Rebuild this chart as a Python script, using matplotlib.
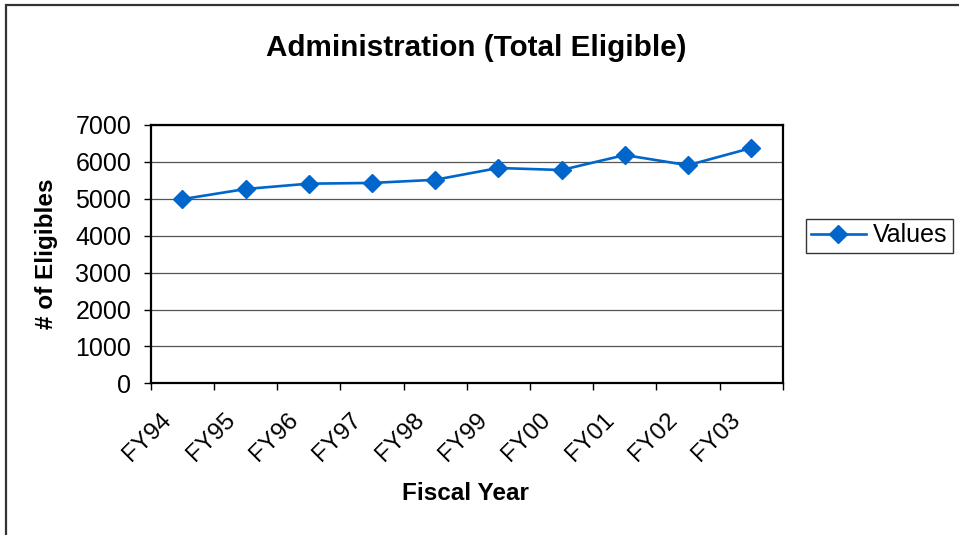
import numpy as np
import matplotlib
matplotlib.use('Agg')
import matplotlib.pyplot as plt
import matplotlib.patches as patches
import matplotlib.transforms as mtransforms

## chart data
years = ['FY94', 'FY95', 'FY96', 'FY97', 'FY98', 'FY99', 'FY00', 'FY01', 'FY02', 'FY03']
values = [4990, 5265, 5410, 5430, 5515, 5835, 5780, 6185, 5910, 6375]
yticks = [0, 1000, 2000, 3000, 4000, 5000, 6000, 7000]

plt.rcParams['font.family'] = ['Liberation Sans', 'DejaVu Sans']

W, H = 959, 535
fig = plt.figure(figsize=(W/100, H/100), dpi=100)
ax = fig.add_axes([150.7/W, 1 - 383.3/H, (782.7 - 150.7)/W, (383.3 - 125)/H])

blue = '#0066CC'
x = np.arange(len(years))
ax.plot(x, values, color=blue, lw=1.9, marker='D', ms=9, label='Values')

ax.set_xlim(-0.5, len(years) - 0.5)
ax.set_ylim(0, 7000)
ax.set_yticks(yticks)
ax.set_yticklabels([str(v) for v in yticks], fontsize=18)
ax.grid(axis='y', color='#555555', lw=0.9)
ax.set_axisbelow(True)

# tick marks at category boundaries, labels at centres
ax.set_xticks(x)
ax.set_xticks(np.arange(len(years) + 1) - 0.5, minor=True)
ax.tick_params(axis='x', which='major', length=0, pad=24)
ax.tick_params(axis='x', which='minor', length=5, width=1, direction='out')
ax.tick_params(axis='y', length=5, width=1, direction='out', pad=9)
ax.set_xticklabels(years, fontsize=17.5, rotation=45, ha='right', va='center',
                   rotation_mode='anchor')
shift = mtransforms.ScaledTranslation(-14/100, 0, fig.dpi_scale_trans)
for lab in ax.get_xticklabels():
    lab.set_transform(lab.get_transform() + shift)

for s in ax.spines.values():
    s.set_color('black')
    s.set_linewidth(1.6)

fig.text(476.5/W, 1 - 48/H, 'Administration (Total Eligible)', ha='center', va='center',
         fontsize=21.3, fontweight='bold')
fig.text(465.5/W, 1 - 494/H, 'Fiscal Year', ha='center', va='center',
         fontsize=17.5, fontweight='bold')
fig.text(46.5/W, 1 - 254/H, '# of Eligibles', ha='center', va='center', rotation=90,
         fontsize=17.5, fontweight='bold')

leg = ax.legend(loc='center left', bbox_to_anchor=(805.7/W, 1 - 235.5/H),
                bbox_transform=fig.transFigure, fontsize=18, frameon=True,
                fancybox=False, handlelength=2.2, handletextpad=0.3,
                borderpad=0.2, borderaxespad=0)
leg.get_frame().set_edgecolor('black')
leg.get_frame().set_linewidth(1.0)

# outer chart border (cut off at right and bottom)
fig.add_artist(patches.Rectangle((6/W, -0.1), 2, 1 - 5/H + 0.1, transform=fig.transFigure,
                                 fill=False, edgecolor='#333333', lw=1.6))

fig.savefig('out.png', dpi=100)
